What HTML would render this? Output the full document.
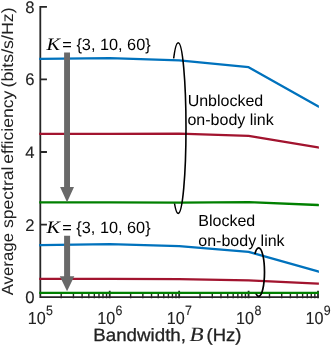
<!DOCTYPE html>
<html><head><meta charset="utf-8">
<style>
html,body{margin:0;padding:0;background:#fff;}
body{width:332px;height:346px;overflow:hidden;}
svg{display:block;opacity:0.999;will-change:transform;}
text{font-family:"Liberation Sans",sans-serif;font-size:16px;text-rendering:geometricPrecision;}
.it{font-family:"Liberation Serif",serif;font-style:italic;}
.tk{font-size:16.7px;}
.sp{font-size:13.4px;}
</style></head><body>
<svg width="332" height="346" viewBox="0 0 332 346">
<rect width="332" height="346" fill="#fff"/>
<defs>
<clipPath id="c1"><path d="M0 0H332V346H0Z M160 58.2 L178.2 58.6 V203.4 H160Z" clip-rule="evenodd"/></clipPath>
<clipPath id="c2"><path d="M0 0H332V346H0Z M240 252.6 L258.7 254.4 V293.8 H240Z" clip-rule="evenodd"/></clipPath>
<clipPath id="box"><rect x="39.2" y="0" width="279.7" height="300"/></clipPath>
</defs>
<!-- axes -->
<g stroke="#262626" stroke-width="1.8" fill="none">
<path d="M46.95 6.9H40.3V297.1H318.9"/>
<path d="M40.3 79.45H46.95M40.3 152H46.95M40.3 224.55H46.95"/>
</g>
<g id="ticks" stroke="#262626" fill="none"><path stroke-width="1.4" d="M61.20 298.3V293.8M73.43 298.3V293.8M82.10 298.3V293.8M88.83 298.3V293.8M94.33 298.3V293.8M98.98 298.3V293.8M103.00 298.3V293.8M106.55 298.3V293.8M130.63 298.3V293.8M142.86 298.3V293.8M151.53 298.3V293.8M158.26 298.3V293.8M163.76 298.3V293.8M168.41 298.3V293.8M172.43 298.3V293.8M175.98 298.3V293.8M200.06 298.3V293.8M212.29 298.3V293.8M220.96 298.3V293.8M227.69 298.3V293.8M233.19 298.3V293.8M237.84 298.3V293.8M241.86 298.3V293.8M245.41 298.3V293.8M269.49 298.3V293.8M281.72 298.3V293.8M290.39 298.3V293.8M297.12 298.3V293.8M302.62 298.3V293.8M307.27 298.3V293.8M311.29 298.3V293.8M314.84 298.3V293.8"/><path stroke-width="1.8" d="M109.73 298.3V290.7M179.16 298.3V290.7M248.59 298.3V290.7M318.02 298.3V290.7"/></g>
<!-- data lines -->
<g fill="none" stroke-width="2.3" stroke-linejoin="round" clip-path="url(#box)">
<polyline stroke="#0072bd" points="30,58.9 40.3,58.8 109.7,58.1 179.2,60.3 248.6,67.2 318,106.2 325,110.1"/>
<polyline stroke="#a2142f" points="30,133.9 40.3,133.9 109.7,133.8 179.2,133.7 248.6,135.8 318,147.4 325,148.6"/>
<polyline stroke="#008000" points="30,202.4 40.3,202.4 109.7,202.4 179.2,202.6 248.6,202.1 318,205 325,205.3"/>
<polyline stroke="#0072bd" points="30,245.4 40.3,245.2 109.7,244.1 179.2,246.2 248.6,251.8 318,271.4 325,273.4"/>
<polyline stroke="#a2142f" points="30,278.9 40.3,278.9 109.7,278.9 179.2,279.1 248.6,280.4 318,283.6 325,283.9"/>
<polyline stroke="#008000" points="30,292.8 325,292.8"/>
</g>
<!-- arrows -->
<g fill="#696969">
<path d="M64.1 52.6H70V187.1H74L67.05 202.3L60.1 187.1H64.1Z"/>
<path d="M64.1 235.7H70.1V276.2H74.3L67.05 291.2L59.8 276.2H64.1Z"/>
</g>
<!-- ellipses -->
<ellipse cx="178.2" cy="128.1" rx="7.8" ry="85.3" fill="none" stroke="#000" stroke-width="1.6" clip-path="url(#c1)"/>
<ellipse cx="258.7" cy="272.05" rx="5.8" ry="24.25" fill="none" stroke="#000" stroke-width="1.7" clip-path="url(#c2)"/>
<!-- labels -->
<g transform="rotate(0.02)">
<g fill="#222" stroke="#222" stroke-width="0.1">
<g text-anchor="end">
<text x="34.6" y="12.8" class="tk">8</text>
<text x="34.6" y="85.2" class="tk">6</text>
<text x="34.6" y="157.9" class="tk">4</text>
<text x="34.6" y="230.5" class="tk">2</text>
<text x="34.6" y="303.1" class="tk">0</text>
</g>
<g transform="rotate(-0.02) translate(13,0) rotate(-89.98)" style="font-size:16.2px" stroke="none">
<text x="-295.3" y="0" style="font-size:16.2px" textLength="62.3" lengthAdjust="spacingAndGlyphs">Average</text>
<text x="-228" y="0" style="font-size:16.2px" textLength="61.4" lengthAdjust="spacingAndGlyphs">spectral</text>
<text x="-163.7" y="0" style="font-size:16.2px" textLength="73.1" lengthAdjust="spacingAndGlyphs">efficiency</text>
<text x="-87.5" y="0" style="font-size:16.2px" textLength="80.1" lengthAdjust="spacingAndGlyphs">(bits/s/Hz)</text>
</g>
<g id="xl">
<text style="font-size:17.5px" textLength="18" lengthAdjust="spacingAndGlyphs" x="27.9" y="324.1">10</text><text style="font-size:13.6px" textLength="6.9" lengthAdjust="spacingAndGlyphs" x="46.2" y="315.1">5</text>
<text style="font-size:17.5px" textLength="18" lengthAdjust="spacingAndGlyphs" x="97.3" y="324.1">10</text><text style="font-size:13.6px" textLength="6.9" lengthAdjust="spacingAndGlyphs" x="115.6" y="315.1">6</text>
<text style="font-size:17.5px" textLength="18" lengthAdjust="spacingAndGlyphs" x="166.8" y="324.1">10</text><text style="font-size:13.6px" textLength="6.9" lengthAdjust="spacingAndGlyphs" x="185.1" y="315.1">7</text>
<text style="font-size:17.5px" textLength="18" lengthAdjust="spacingAndGlyphs" x="236.2" y="324.1">10</text><text style="font-size:13.6px" textLength="6.9" lengthAdjust="spacingAndGlyphs" x="254.5" y="315.1">8</text>
<text style="font-size:17.5px" textLength="18" lengthAdjust="spacingAndGlyphs" x="305.6" y="324.1">10</text><text style="font-size:13.6px" textLength="6.9" lengthAdjust="spacingAndGlyphs" x="323.9" y="315.1">9</text>
</g>
<text stroke-width="0.28" x="93.4" y="341" style="font-size:17.8px" textLength="92.7" lengthAdjust="spacingAndGlyphs">Bandwidth,</text>
<text x="189.6" y="341.1" class="it" style="font-size:20.3px" textLength="14.1" lengthAdjust="spacingAndGlyphs">B</text>
<text stroke-width="0.28" x="206.7" y="341" style="font-size:17.8px" textLength="34.9" lengthAdjust="spacingAndGlyphs">(Hz)</text>
</g>
<text x="46.5" y="50" class="it" style="font-size:17.6px" textLength="13.5" lengthAdjust="spacingAndGlyphs">K</text>
<text x="62.4" y="50" style="font-size:16.3px">= {3, 10, 60}</text>
<text x="46.5" y="233" class="it" style="font-size:17.6px" textLength="13.5" lengthAdjust="spacingAndGlyphs">K</text>
<text x="62.4" y="233" style="font-size:16.3px">= {3, 10, 60}</text>
<text x="187.7" y="106.1" fill="#000">Unblocked</text>
<text x="187.5" y="125.3" fill="#000">on-body link</text>
<text x="198.4" y="226.1" fill="#000">Blocked</text>
<text x="198.4" y="246" fill="#000">on-body link</text>
</g>
</svg>
</body></html>
